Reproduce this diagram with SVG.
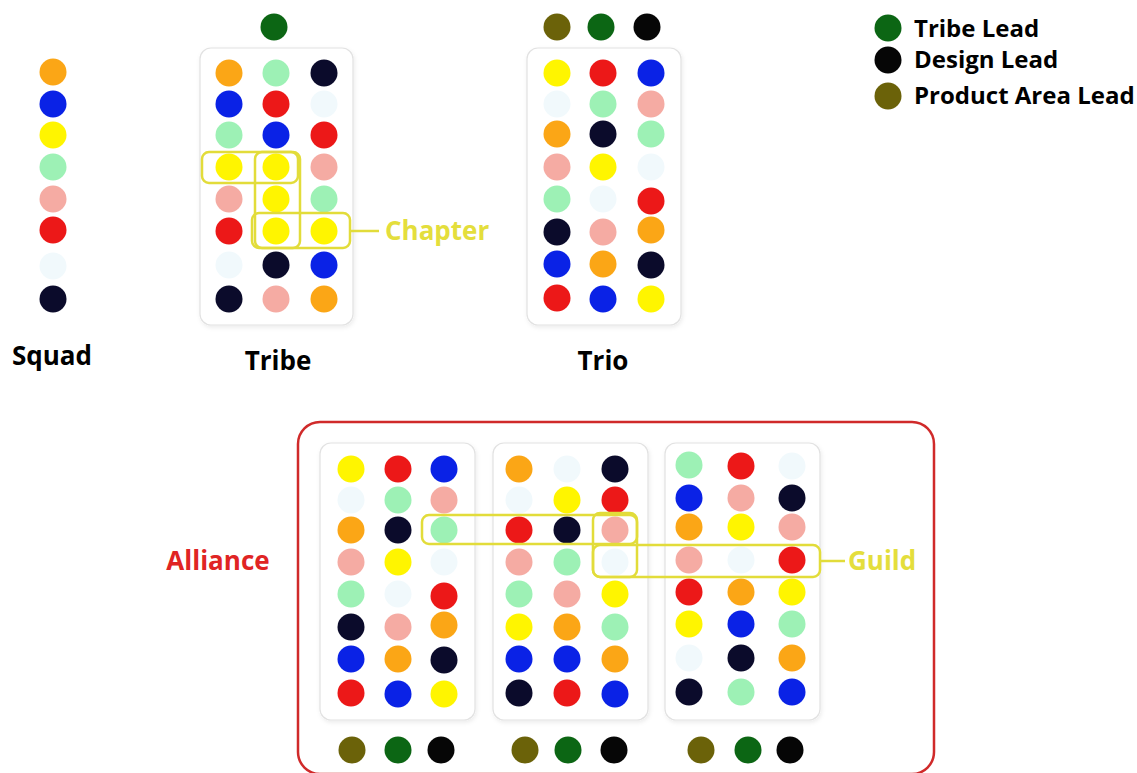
<svg xmlns="http://www.w3.org/2000/svg" width="1137" height="773" viewBox="0 0 1137 773">
<style>
.or{fill:#FBA616}.bl{fill:#0A22E6}.ye{fill:#FFF500}.lg{fill:#9DF1B5}.pk{fill:#F5ABA3}.rd{fill:#EC1818}.vl{fill:#F1F9FC}.nv{fill:#0B0B2B}.gr{fill:#0C6614}.bk{fill:#060606}.ol{fill:#6B6209}
.box{fill:#FFFFFF;stroke:#E2E2E2;stroke-width:1.2;filter:url(#sh)}
.hl{fill:none;stroke:#E2DC3A;stroke-width:2.5}
.lbl{font-family:"Open Sans","Noto Sans",sans-serif;font-weight:700;font-size:26px;fill:#000}
.ylbl{font-family:"Open Sans","Noto Sans",sans-serif;font-weight:700;font-size:26px;fill:#E4DE3C}
.leg{font-family:"Open Sans","Noto Sans",sans-serif;font-weight:700;font-size:24px;fill:#000}
</style>
<defs>
<filter id="sh" x="-10%" y="-10%" width="120%" height="120%">
<feDropShadow dx="1" dy="2" stdDeviation="2" flood-color="#000" flood-opacity="0.08"/>
</filter>
</defs>
<rect width="1137" height="773" fill="#FFFFFF"/>

<g id="squad">
<circle class="or" cx="53" cy="72" r="13.5"/>
<circle class="bl" cx="53" cy="104" r="13.5"/>
<circle class="ye" cx="53" cy="135" r="13.5"/>
<circle class="lg" cx="53" cy="167" r="13.5"/>
<circle class="pk" cx="53" cy="199" r="13.5"/>
<circle class="rd" cx="53" cy="230" r="13.5"/>
<circle class="vl" cx="53" cy="266" r="13.5"/>
<circle class="nv" cx="53" cy="299" r="13.5"/>
<text class="lbl" x="52" y="365" text-anchor="middle">Squad</text>
</g>

<g id="tribe">
<circle class="gr" cx="274" cy="27" r="13.5"/>
<rect class="box" x="200" y="48" width="153" height="277" rx="11"/>
<circle class="or" cx="229" cy="73" r="13.5"/><circle class="lg" cx="276" cy="73" r="13.5"/><circle class="nv" cx="324" cy="73" r="13.5"/>
<circle class="bl" cx="229" cy="104" r="13.5"/><circle class="rd" cx="276" cy="104" r="13.5"/><circle class="vl" cx="324" cy="104" r="13.5"/>
<circle class="lg" cx="229" cy="135" r="13.5"/><circle class="bl" cx="276" cy="135" r="13.5"/><circle class="rd" cx="324" cy="135" r="13.5"/>
<circle class="ye" cx="229" cy="167" r="13.5"/><circle class="ye" cx="276" cy="167" r="13.5"/><circle class="pk" cx="324" cy="167" r="13.5"/>
<circle class="pk" cx="229" cy="199" r="13.5"/><circle class="ye" cx="276" cy="199" r="13.5"/><circle class="lg" cx="324" cy="199" r="13.5"/>
<circle class="rd" cx="229" cy="231" r="13.5"/><circle class="ye" cx="276" cy="231" r="13.5"/><circle class="ye" cx="324" cy="231" r="13.5"/>
<circle class="vl" cx="229" cy="265" r="13.5"/><circle class="nv" cx="276" cy="265" r="13.5"/><circle class="bl" cx="324" cy="265" r="13.5"/>
<circle class="nv" cx="229" cy="299" r="13.5"/><circle class="pk" cx="276" cy="299" r="13.5"/><circle class="or" cx="324" cy="299" r="13.5"/>
<text class="lbl" x="278" y="370" text-anchor="middle">Tribe</text>
</g>

<g id="trio">
<circle class="ol" cx="557" cy="27" r="13.5"/><circle class="gr" cx="601" cy="27" r="13.5"/><circle class="bk" cx="647" cy="27" r="13.5"/>
<rect class="box" x="527" y="48" width="154" height="277" rx="11"/>
<circle class="ye" cx="557" cy="73" r="13.5"/><circle class="rd" cx="603" cy="73" r="13.5"/><circle class="bl" cx="651" cy="73" r="13.5"/>
<circle class="vl" cx="557" cy="104" r="13.5"/><circle class="lg" cx="603" cy="104" r="13.5"/><circle class="pk" cx="651" cy="104" r="13.5"/>
<circle class="or" cx="557" cy="134" r="13.5"/><circle class="nv" cx="603" cy="134" r="13.5"/><circle class="lg" cx="651" cy="134" r="13.5"/>
<circle class="pk" cx="557" cy="167" r="13.5"/><circle class="ye" cx="603" cy="167" r="13.5"/><circle class="vl" cx="651" cy="167" r="13.5"/>
<circle class="lg" cx="557" cy="199" r="13.5"/><circle class="vl" cx="603" cy="199" r="13.5"/><circle class="rd" cx="651" cy="201" r="13.5"/>
<circle class="nv" cx="557" cy="232" r="13.5"/><circle class="pk" cx="603" cy="232" r="13.5"/><circle class="or" cx="651" cy="230" r="13.5"/>
<circle class="bl" cx="557" cy="264" r="13.5"/><circle class="or" cx="603" cy="264" r="13.5"/><circle class="nv" cx="651" cy="265" r="13.5"/>
<circle class="rd" cx="557" cy="298" r="13.5"/><circle class="bl" cx="603" cy="299" r="13.5"/><circle class="ye" cx="651" cy="299" r="13.5"/>
<text class="lbl" x="603" y="370" text-anchor="middle">Trio</text>
</g>

<g id="legend">
<circle class="gr" cx="888" cy="28" r="13.5"/>
<text class="leg" x="914" y="37">Tribe Lead</text>
<circle class="bk" cx="888" cy="60" r="13.5"/>
<text class="leg" x="914" y="68">Design Lead</text>
<circle class="ol" cx="888" cy="96" r="13.5"/>
<text class="leg" x="914" y="104">Product Area Lead</text>
</g>

<g id="alliance">
<rect x="298" y="422" width="636" height="352" rx="22" fill="none" stroke="#D02A2A" stroke-width="2.5"/>
<text class="lbl" x="218" y="570" text-anchor="middle" style="fill:#E02424">Alliance</text>
</g>

<g id="alliance-tribe-1">
<rect class="box" x="320" y="443" width="155" height="277" rx="11"/>
<circle class="ye" cx="351" cy="469" r="13.5"/><circle class="rd" cx="398" cy="469" r="13.5"/><circle class="bl" cx="444" cy="469" r="13.5"/>
<circle class="vl" cx="351" cy="500" r="13.5"/><circle class="lg" cx="398" cy="500" r="13.5"/><circle class="pk" cx="444" cy="500" r="13.5"/>
<circle class="or" cx="351" cy="530" r="13.5"/><circle class="nv" cx="398" cy="530" r="13.5"/><circle class="lg" cx="444" cy="530" r="13.5"/>
<circle class="pk" cx="351" cy="562" r="13.5"/><circle class="ye" cx="398" cy="562" r="13.5"/><circle class="vl" cx="444" cy="562" r="13.5"/>
<circle class="lg" cx="351" cy="594" r="13.5"/><circle class="vl" cx="398" cy="594" r="13.5"/><circle class="rd" cx="444" cy="596" r="13.5"/>
<circle class="nv" cx="351" cy="627" r="13.5"/><circle class="pk" cx="398" cy="627" r="13.5"/><circle class="or" cx="444" cy="625" r="13.5"/>
<circle class="bl" cx="351" cy="659" r="13.5"/><circle class="or" cx="398" cy="659" r="13.5"/><circle class="nv" cx="444" cy="660" r="13.5"/>
<circle class="rd" cx="351" cy="693" r="13.5"/><circle class="bl" cx="398" cy="694" r="13.5"/><circle class="ye" cx="444" cy="694" r="13.5"/>
<circle class="ol" cx="352" cy="750" r="13.5"/><circle class="gr" cx="398" cy="750" r="13.5"/><circle class="bk" cx="441" cy="750" r="13.5"/>
</g>

<g id="alliance-tribe-2">
<rect class="box" x="493" y="443" width="155" height="277" rx="11"/>
<circle class="or" cx="519" cy="469" r="13.5"/><circle class="vl" cx="567" cy="469" r="13.5"/><circle class="nv" cx="615" cy="469" r="13.5"/>
<circle class="vl" cx="519" cy="500" r="13.5"/><circle class="ye" cx="567" cy="500" r="13.5"/><circle class="rd" cx="615" cy="500" r="13.5"/>
<circle class="rd" cx="519" cy="530" r="13.5"/><circle class="nv" cx="567" cy="530" r="13.5"/><circle class="pk" cx="615" cy="530" r="13.5"/>
<circle class="pk" cx="519" cy="562" r="13.5"/><circle class="lg" cx="567" cy="562" r="13.5"/><circle class="vl" cx="615" cy="562" r="13.5"/>
<circle class="lg" cx="519" cy="594" r="13.5"/><circle class="pk" cx="567" cy="594" r="13.5"/><circle class="ye" cx="615" cy="594" r="13.5"/>
<circle class="ye" cx="519" cy="627" r="13.5"/><circle class="or" cx="567" cy="627" r="13.5"/><circle class="lg" cx="615" cy="627" r="13.5"/>
<circle class="bl" cx="519" cy="659" r="13.5"/><circle class="bl" cx="567" cy="659" r="13.5"/><circle class="or" cx="615" cy="659" r="13.5"/>
<circle class="nv" cx="519" cy="693" r="13.5"/><circle class="rd" cx="567" cy="693" r="13.5"/><circle class="bl" cx="615" cy="694" r="13.5"/>
<circle class="ol" cx="525" cy="750" r="13.5"/><circle class="gr" cx="568" cy="750" r="13.5"/><circle class="bk" cx="614" cy="750" r="13.5"/>
</g>

<g id="alliance-tribe-3">
<rect class="box" x="665" y="443" width="155" height="277" rx="11"/>
<circle class="lg" cx="689" cy="465" r="13.5"/><circle class="rd" cx="741" cy="466" r="13.5"/><circle class="vl" cx="792" cy="466" r="13.5"/>
<circle class="bl" cx="689" cy="498" r="13.5"/><circle class="pk" cx="741" cy="498" r="13.5"/><circle class="nv" cx="792" cy="498" r="13.5"/>
<circle class="or" cx="689" cy="527" r="13.5"/><circle class="ye" cx="741" cy="527" r="13.5"/><circle class="pk" cx="792" cy="527" r="13.5"/>
<circle class="pk" cx="689" cy="560" r="13.5"/><circle class="vl" cx="741" cy="560" r="13.5"/><circle class="rd" cx="792" cy="560" r="13.5"/>
<circle class="rd" cx="689" cy="592" r="13.5"/><circle class="or" cx="741" cy="592" r="13.5"/><circle class="ye" cx="792" cy="592" r="13.5"/>
<circle class="ye" cx="689" cy="624" r="13.5"/><circle class="bl" cx="741" cy="624" r="13.5"/><circle class="lg" cx="792" cy="624" r="13.5"/>
<circle class="vl" cx="689" cy="658" r="13.5"/><circle class="nv" cx="741" cy="658" r="13.5"/><circle class="or" cx="792" cy="658" r="13.5"/>
<circle class="nv" cx="689" cy="692" r="13.5"/><circle class="lg" cx="741" cy="692" r="13.5"/><circle class="bl" cx="792" cy="692" r="13.5"/>
<circle class="ol" cx="701" cy="750" r="13.5"/><circle class="gr" cx="748" cy="750" r="13.5"/><circle class="bk" cx="790" cy="750" r="13.5"/>
</g>

<g id="chapter">
<rect class="hl" x="202" y="152" width="96" height="31" rx="7"/>
<rect class="hl" x="255" y="152" width="45" height="96" rx="7"/>
<rect class="hl" x="252" y="213" width="98" height="35" rx="7"/>
<text class="ylbl" x="385" y="240">Chapter</text>
</g>

<g id="guild">
<rect class="hl" x="422" y="515" width="215" height="29" rx="7"/>
<rect class="hl" x="593" y="513" width="44" height="64" rx="7"/>
<rect class="hl" x="593" y="545" width="227" height="32" rx="7"/>
<text class="ylbl" x="848" y="570">Guild</text>
</g>

<g id="connectors">
<line class="hl" x1="350" y1="231" x2="379" y2="231"/>
<line class="hl" x1="820" y1="561" x2="845" y2="561"/>
</g>
</svg>
